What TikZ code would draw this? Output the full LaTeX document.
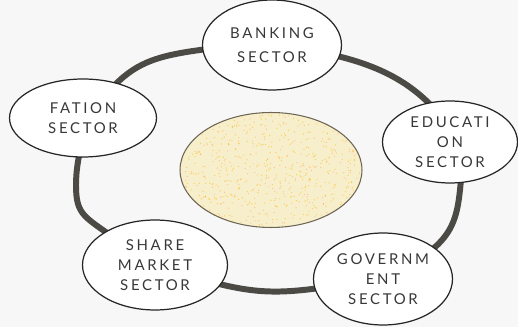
\documentclass[tikz,border=0pt]{standalone}
\usepackage{fontspec}
\setsansfont[LetterSpace=18]{Lato}
\usepackage{tikz}
\usetikzlibrary{
  positioning,
  shapes.geometric
}
\definecolor{ringgray}{HTML}{4B4A45}
\definecolor{paper}{HTML}{F6F7F6}
\definecolor{corefill}{HTML}{F7EFCB}
\definecolor{coreedge}{HTML}{6E6452}
\definecolor{inkgray}{HTML}{383838}
\tikzstyle{ring}=[line width=3.4pt, draw=ringgray]
\tikzstyle{sector}=[ellipse, draw=black!85, line width=0.7pt, fill=white, inner sep=0pt,
  font=\sffamily\fontsize{8.5}{11.5}\selectfont, text=inkgray, align=center]
\tikzstyle{core}=[ellipse, draw=coreedge, line width=0.6pt, fill=corefill, inner sep=0pt]

\begin{document}
\begin{tikzpicture}[x=0.02cm, y=-0.02cm]
    % 背景
    \fill[paper] (0,0) rectangle (518,327);
    \useasboundingbox (0,0) rectangle (518,327);

    % 外側の輪の描画
    \draw[ring] plot[smooth cycle, tension=0.7] coordinates {
      (76,185) (110,90) (200,50) (345,58) (440,115)
      (460,190) (425,255) (320,288) (215,283) (110,235)};

    % 中央の楕円
    \node[core, minimum width=3.64cm, minimum height=2.3cm] (core) at (271,170) {};

    % 中央の楕円の斑点
    \begin{scope}
      \clip (271,170) ellipse [x radius=90, y radius=56];
      \pgfmathsetseed{7}
      \foreach \i in {1,...,450} {
        \fill[orange!55!yellow, opacity=0.55] ({271+90*rand}, {170+56*rand}) circle (0.7);
      }
      \foreach \i in {1,...,250} {
        \fill[orange!80!red, opacity=0.35] ({271+90*rand}, {170+56*rand}) circle (0.6);
      }
    \end{scope}

    % 各セクター
    \node[sector, minimum width=2.78cm, minimum height=1.8cm] (banking) at (272,45)
      {BANKING\\[2pt]SECTOR};
    \node[sector, minimum width=2.94cm, minimum height=1.56cm] (fation) at (83,118)
      {FATION\\SECTOR};
    \node[sector, minimum width=2.7cm, minimum height=1.64cm] (education) at (450,142)
      {EDUCATI\\ON\\SECTOR};
    \node[sector, minimum width=2.9cm, minimum height=1.8cm] (share) at (155,265)
      {SHARE\\MARKET\\SECTOR};
    \node[sector, minimum width=2.78cm, minimum height=1.84cm] (government) at (383,279)
      {GOVERNM\\ENT\\SECTOR};
\end{tikzpicture}
\end{document}
